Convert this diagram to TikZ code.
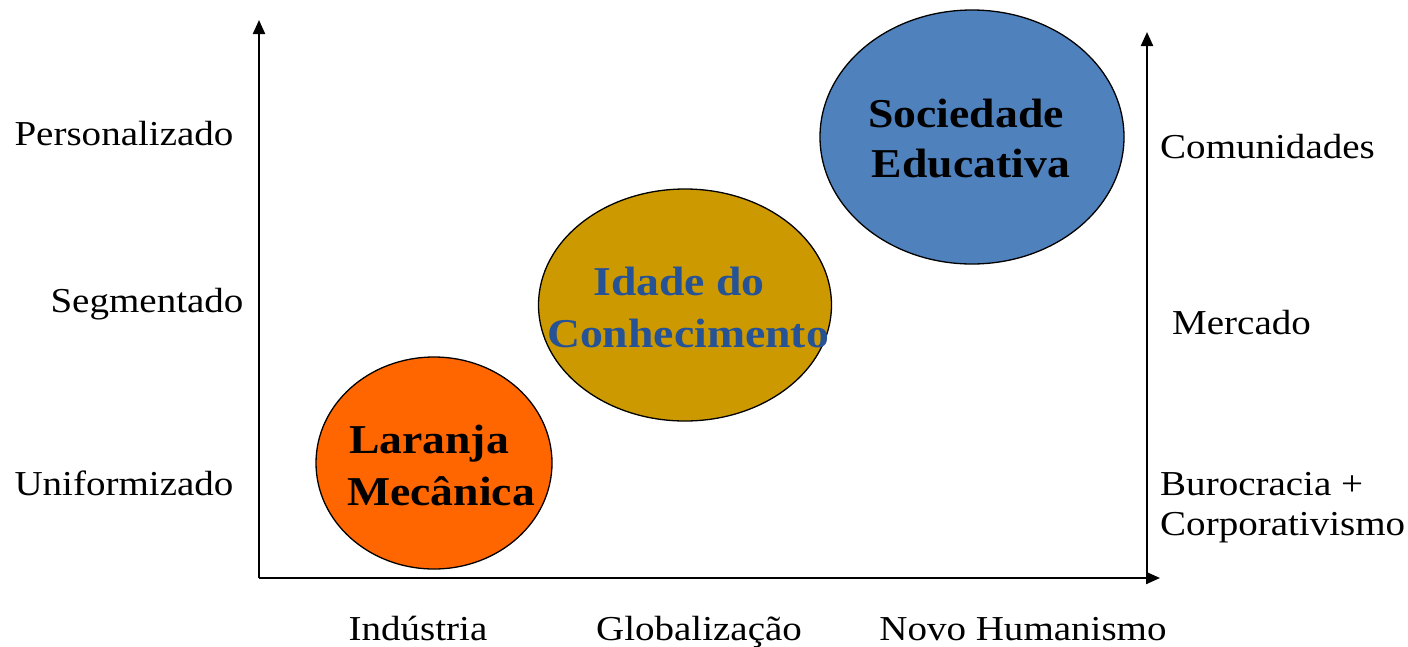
\documentclass[tikz,border=0pt]{standalone}
\usepackage{fontspec}
\setmainfont{Liberation Serif}[FakeStretch=1.115]
\usetikzlibrary{shapes.geometric,arrows.meta}
\definecolor{laranja}{RGB}{255,102,0}
\definecolor{ouro}{RGB}{204,153,0}
\definecolor{azul}{RGB}{79,129,189}
\definecolor{azultxt}{RGB}{38,82,150}
\begin{document}
\begin{tikzpicture}[x=1pt,y=-1pt,
  lbl/.style={font=\fontsize{35}{40}\selectfont, inner sep=0, anchor=base},
  lblw/.style={lbl, anchor=base west},
  big/.style={font=\fontsize{41}{50}\selectfont\bfseries, inner sep=0, anchor=base},
  axis/.style={line width=2.2pt, -{Triangle[length=14pt,width=12pt]}},
  bubble/.style={ellipse, draw=black, line width=1.3pt, inner sep=0}]
\useasboundingbox (0,0) rectangle (1408,646);

% axes
\coordinate (O) at (259,578);
\coordinate (Ytop) at (259,20);
\coordinate (Xend) at (1160,578);
\coordinate (R0) at (1147,578);
\coordinate (Rtop) at (1147,32);
\draw[axis] (O) -- (Ytop);
\draw[axis] (O) -- (Xend);
\draw[axis] (R0) -- (Rtop);

% bubbles
\node[bubble, fill=laranja, minimum width=236pt, minimum height=212pt] (lar) at (434,463) {};
\node[bubble, fill=ouro, minimum width=293pt, minimum height=232pt] (ida) at (685,305) {};
\node[bubble, fill=azul, minimum width=304pt, minimum height=254pt] (soc) at (972,137) {};

\node[big] (lar1) at (429,453) {Laranja};
\node[big] (lar2) at (441,505) {Mecânica};
\node[big, text=azultxt] (ida1) at (679,295) {Idade do};
\node[big, text=azultxt] (ida2) at (688,347) {Conhecimento};
\node[big] (soc1) at (966,127) {Sociedade};
\node[big] (soc2) at (971,177) {Educativa};

% left labels
\node[lbl] (pers) at (124,145) {Personalizado};
\node[lbl] (segm) at (147,312) {Segmentado};
\node[lbl] (unif) at (124,495) {Uniformizado};

% right labels
\node[lblw] (com) at (1160,158) {Comunidades};
\node[lblw] (mer) at (1172,334) {Mercado};
\node[lblw] (bur) at (1160,495) {Burocracia +};
\node[lblw] (cor) at (1160,535) {Corporativismo};

% bottom labels
\node[lbl] (ind) at (418,640) {Indústria};
\node[lbl] (glo) at (699,640) {Globalização};
\node[lbl] (nov) at (1023,640) {Novo Humanismo};
\end{tikzpicture}
\end{document}
